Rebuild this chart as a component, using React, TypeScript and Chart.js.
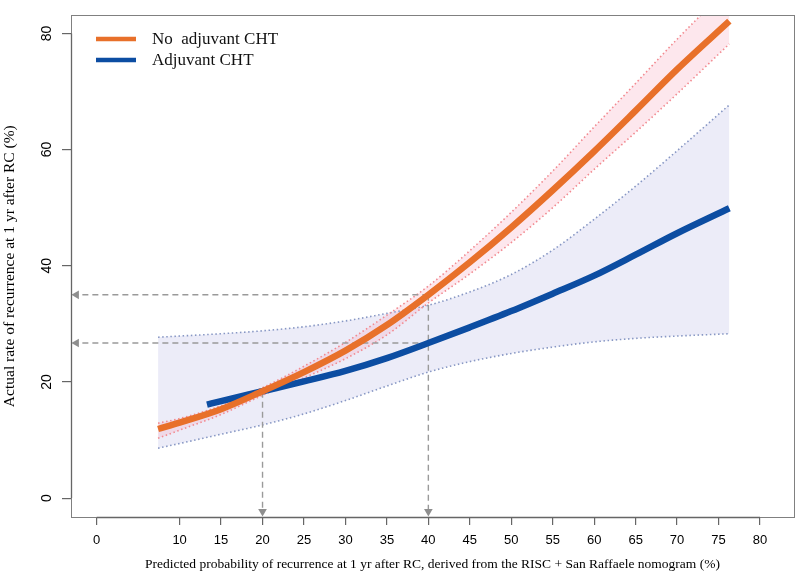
import React, { useEffect, useRef } from "react";
import { Chart, registerables } from "chart.js";

Chart.register(...registerables);

// ---- data ----
const ciX = [7.4, 10, 15, 20, 25, 30, 35, 40, 45, 50, 55, 60, 65, 70, 76.3];
const noAdjLine = [11.9, 13.0, 15.3, 18.4, 21.7, 25.4, 29.8, 35.0, 40.6, 46.6, 53.0, 59.7, 66.7, 73.8, 82.1];
const noAdjUpper = [12.9, 13.7, 15.9, 19.0, 22.7, 26.8, 31.5, 36.5, 42.6, 49.2, 56.3, 63.9, 71.4, 79.0, 88.0];
const noAdjLower = [10.3, 11.7, 14.4, 17.7, 20.7, 24.0, 28.1, 33.6, 38.6, 44.0, 50.0, 56.6, 63.0, 69.6, 78.2];

const adjX = [13.3, 15, 20, 25, 30, 35, 40, 45, 50, 55, 60, 65, 70, 76.3];
const adjLine = [16.1, 16.7, 18.4, 20.1, 21.9, 24.1, 26.7, 29.4, 32.2, 35.2, 38.3, 41.9, 45.6, 49.9];
const adjUpper = [27.7, 27.9, 28.3, 28.8, 29.5, 30.5, 31.8, 33.2, 35.5, 38.5, 42.7, 48.0, 53.7, 59.8, 67.7];
const adjLower = [8.6, 9.4, 11.0, 12.6, 14.5, 16.8, 19.3, 21.7, 23.5, 24.9, 26.0, 26.9, 27.5, 27.9, 28.3];

// reference arrows (predicted value -> actual value)
const refPredicted = [20, 40];
const refActualAtPredicted = [18.3, 35.0];
const refActualLevels = [35.0, 26.7];
const refLevelFrom = [40, 40];

const xTickValues = [0, 10, 15, 20, 25, 30, 35, 40, 45, 50, 55, 60, 65, 70, 75, 80];
const yTickValues = [0, 20, 40, 60, 80];

const seriesLabels = ["No  adjuvant CHT", "Adjuvant CHT"];
const xTitle = "Predicted probability of recurrence at 1 yr after RC, derived from the RISC + San Raffaele nomogram (%)";
const yTitle = "Actual rate of recurrence at 1 yr after RC (%)";

// ---- axis ranges & styles ----
const X_MIN = -3.1;
const X_MAX = 84.1;
const Y_MIN = -3.25;
const Y_MAX = 83.1;

const ORANGE = "#e8702a";
const BLUE = "#0c4da2";
const DASH_GREY = "#9a9a9a";

const pts = (xs: number[], ys: number[]) => xs.map((x, i) => ({ x, y: ys[i] }));

export default function App() {
  const ref = useRef<HTMLCanvasElement | null>(null);

  useEffect(() => {
    const canvas = ref.current;
    if (!canvas) return;

    const arrowEndX = X_MIN + 0.65;
    const arrowEndY = Y_MIN + 0.95;

    const arrow = (data: { x: number; y: number }[], rot: number) => ({
      data,
      borderColor: DASH_GREY,
      borderWidth: 1.4,
      borderDash: [6, 4],
      tension: 0,
      fill: false,
      pointRadius: [0, 5],
      pointStyle: "triangle",
      pointRotation: [0, rot],
      pointBackgroundColor: "#8e8e8e",
      pointBorderWidth: 0,
    });

    const arrows: any[] = [];
    refLevelFrom.forEach((x0, i) => {
      arrows.push(arrow([{ x: x0, y: refActualLevels[i] }, { x: arrowEndX, y: refActualLevels[i] }], -90));
    });
    refPredicted.forEach((x0, i) => {
      arrows.push(arrow([{ x: x0, y: refActualAtPredicted[i] }, { x: x0, y: arrowEndY }], 180));
    });

    const dotted = (data: any[], color: string, fill: any, bg: string) => ({
      data,
      borderColor: color,
      borderWidth: 1.6,
      borderDash: [1.5, 2.6],
      cubicInterpolationMode: "monotone",
      fill,
      backgroundColor: bg,
      pointRadius: 0,
    });

    const boxPlugin = {
      id: "rbox",
      afterDraw(chart: any) {
        const { ctx, chartArea } = chart;
        const xs = chart.scales.x;
        const ys = chart.scales.y;
        ctx.save();
        // plot box
        ctx.strokeStyle = "#808080";
        ctx.lineWidth = 1;
        ctx.strokeRect(
          Math.round(chartArea.left) + 0.5,
          Math.round(chartArea.top) + 0.5,
          Math.round(chartArea.right - chartArea.left),
          Math.round(chartArea.bottom - chartArea.top)
        );
        // axis lines (R style, spanning the tick range)
        ctx.strokeStyle = "#666";
        ctx.lineWidth = 1.3;
        ctx.beginPath();
        const by = Math.round(chartArea.bottom) + 0.5;
        ctx.moveTo(xs.getPixelForValue(xTickValues[0]), by);
        ctx.lineTo(xs.getPixelForValue(xTickValues[xTickValues.length - 1]), by);
        const lx = Math.round(chartArea.left) + 0.5;
        ctx.moveTo(lx, ys.getPixelForValue(yTickValues[0]));
        ctx.lineTo(lx, ys.getPixelForValue(yTickValues[yTickValues.length - 1]));
        ctx.stroke();

        // legend
        const colors = [ORANGE, BLUE];
        const rows = [39, 60];
        ctx.font = "17px 'Liberation Serif', 'DejaVu Serif', serif";
        ctx.textBaseline = "middle";
        ctx.textAlign = "left";
        seriesLabels.forEach((lab, i) => {
          ctx.strokeStyle = colors[i];
          ctx.lineWidth = 4.5;
          ctx.beginPath();
          ctx.moveTo(96, rows[i]);
          ctx.lineTo(136, rows[i]);
          ctx.stroke();
          ctx.fillStyle = "#111";
          ctx.fillText(lab, 152, rows[i] + 1);
        });
        ctx.restore();
      },
    };

    const chart = new Chart(canvas, {
      type: "line",
      data: {
        datasets: [
          {
            label: seriesLabels[0],
            data: pts(ciX, noAdjLine),
            borderColor: ORANGE,
            borderWidth: 6.5,
            cubicInterpolationMode: "monotone",
            pointRadius: 0,
            fill: false,
          },
          {
            label: seriesLabels[1],
            data: pts(adjX, adjLine),
            borderColor: BLUE,
            borderWidth: 6.5,
            cubicInterpolationMode: "monotone",
            pointRadius: 0,
            fill: false,
          },
          ...arrows,
          dotted(pts(ciX, noAdjUpper), "#f28a90", "+1", "rgba(248, 170, 190, 0.28)"),
          dotted(pts(ciX, noAdjLower), "#f28a90", false, "transparent"),
          dotted(pts(ciX, adjUpper), "#8797c4", "+1", "rgba(205, 205, 236, 0.38)"),
          dotted(pts(ciX, adjLower), "#8797c4", false, "transparent"),
        ] as any,
      },
      options: {
        animation: false,
        responsive: false,
        events: [],
        layout: { padding: { top: 5, right: 6, left: 0, bottom: 0 } },
        elements: { point: { radius: 0 } },
        plugins: {
          legend: { display: false },
          tooltip: { enabled: false },
          filler: { drawTime: "beforeDatasetsDraw" },
        } as any,
        scales: {
          x: {
            type: "linear",
            min: X_MIN,
            max: X_MAX,
            afterBuildTicks: (s: any) => {
              s.ticks = xTickValues.map((v) => ({ value: v }));
            },
            afterFit: (s: any) => {
              s.height = 59;
            },
            grid: { display: true, drawOnChartArea: false, drawTicks: true, tickLength: 8, color: "#666", lineWidth: 1.2 },
            border: { display: false },
            ticks: {
              autoSkip: false,
              maxRotation: 0,
              minRotation: 0,
              padding: 8,
              color: "#000",
              font: { family: "'Liberation Sans', Arial, sans-serif", size: 13 },
              callback: (v: any) => String(v),
            },
            title: {
              display: true,
              text: xTitle,
              color: "#000",
              font: { family: "'Liberation Serif', 'DejaVu Serif', serif", size: 13.5 },
              padding: { top: 0, bottom: 3 },
            },
          },
          y: {
            type: "linear",
            min: Y_MIN,
            max: Y_MAX,
            afterBuildTicks: (s: any) => {
              s.ticks = yTickValues.map((v) => ({ value: v }));
            },
            afterFit: (s: any) => {
              s.width = 71;
            },
            grid: { display: true, drawOnChartArea: false, drawTicks: true, tickLength: 9, color: "#666", lineWidth: 1.2 },
            border: { display: false },
            ticks: {
              autoSkip: false,
              minRotation: 90,
              maxRotation: 90,
              crossAlign: "center",
              padding: 7,
              color: "#000",
              font: { family: "'Liberation Sans', Arial, sans-serif", size: 14 },
              callback: (v: any) => String(v),
            },
            title: {
              display: true,
              text: yTitle,
              color: "#000",
              font: { family: "'Liberation Serif', 'DejaVu Serif', serif", size: 15.5 },
              padding: { top: 1, bottom: 0 },
            },
          },
        },
      } as any,
      plugins: [boxPlugin],
    });

    return () => chart.destroy();
  }, []);

  return (
    <div style={{ position: "absolute", left: 0, top: 0, width: 800, height: 576, background: "#fff" }}>
      <canvas ref={ref} width={800} height={576} style={{ display: "block" }} />
    </div>
  );
}
